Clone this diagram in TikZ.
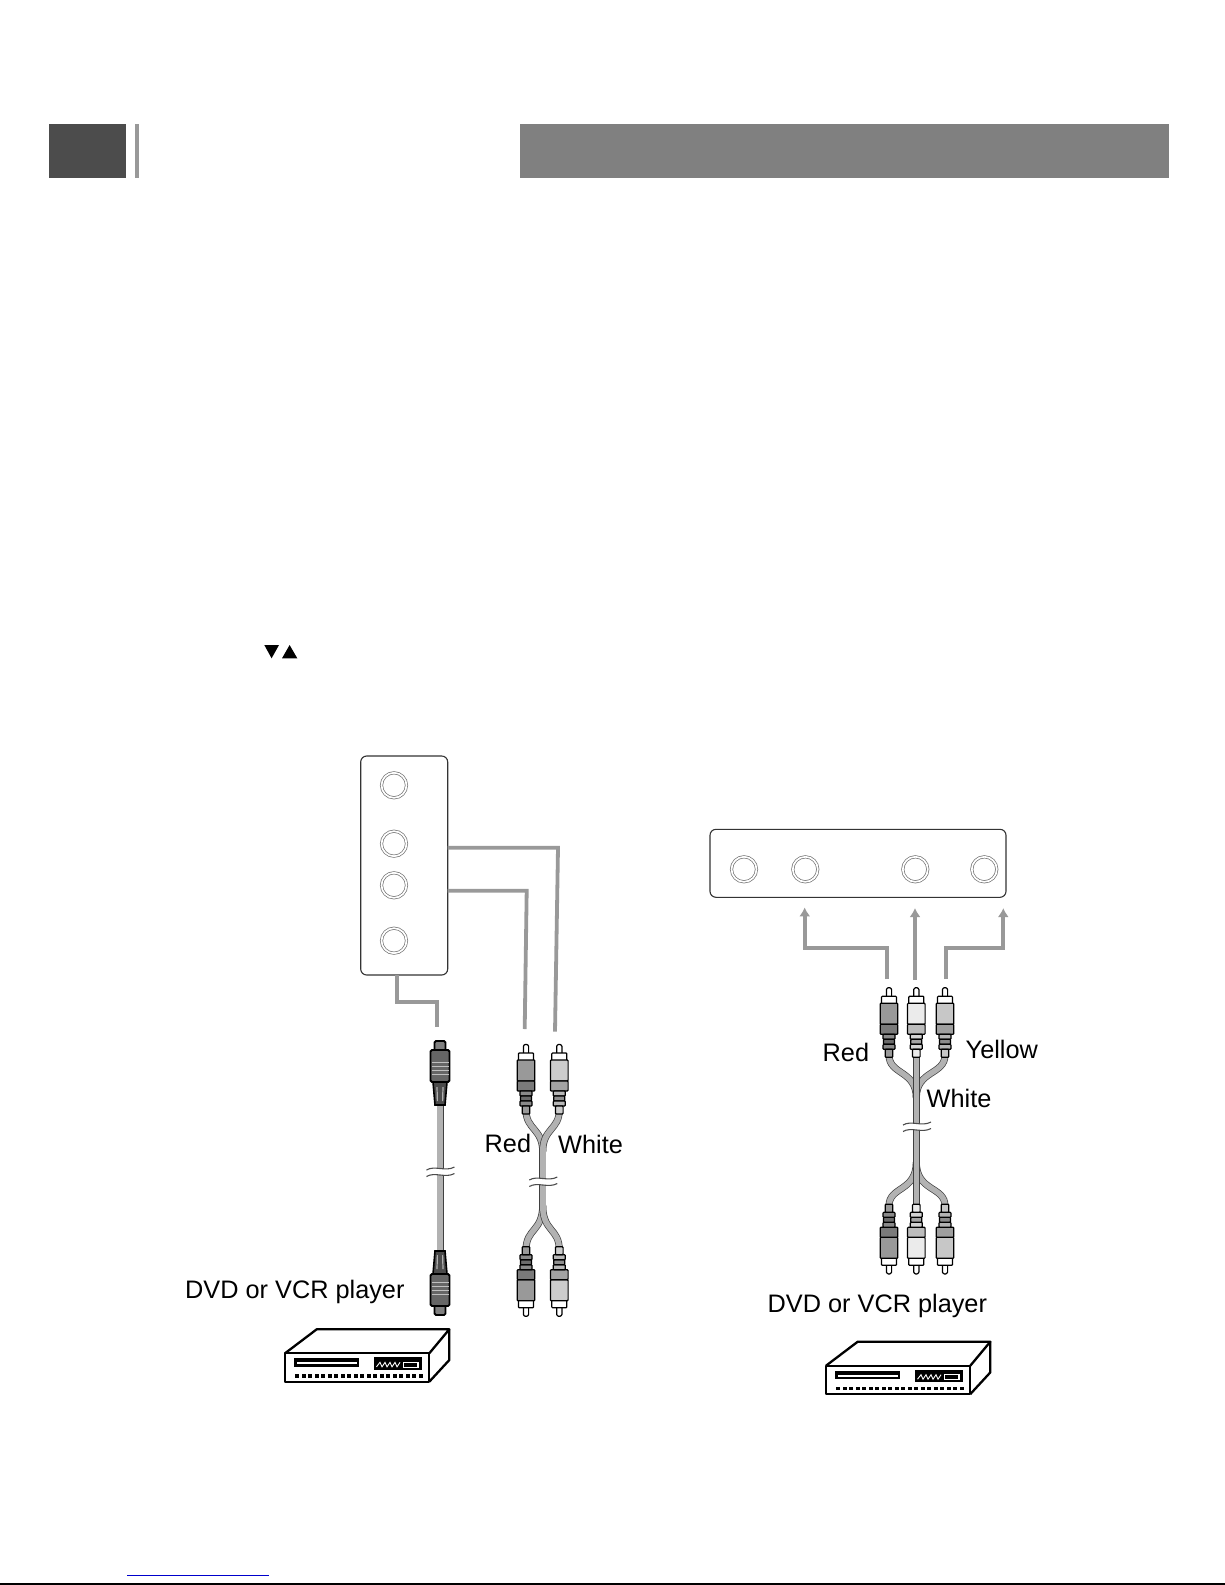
\documentclass[tikz,border=0pt]{standalone}
\usepackage{fontspec}
\setmainfont{Liberation Sans}
\usepackage{tikz}
\usetikzlibrary{arrows.meta}
\definecolor{wiregray}{HTML}{999999}
\tikzset{
  panel/.style={draw=black!80, line width=1.1, rounded corners=6, inner sep=0, outer sep=0},
  jack/.style={circle, draw=black!55, line width=.7, double=white, double distance=1.7, minimum size=25, inner sep=0},
  wire/.style={draw=wiregray, line width=3.8},
  wirearrow/.style={wire, -{Latex[length=9, width=11]}},
  cable/.style={draw=black!30, line width=5.6, preaction={draw=black!75, line width=7}},
  label/.style={font=\fontsize{25.3}{30}\selectfont, anchor=base west, inner sep=0, text=black},
  pics/rcaplug/.style={code={
        \colorlet{plugtone}{black!#1}
        \begin{scope}[draw=black, line width=1.2, rounded corners=.8]
          \draw[fill=white] (-2.6, 10) -- (-2.6, 1.5) -- (0, 0) -- (2.6, 1.5) -- (2.6, 10) -- cycle;
          \draw[fill=white] (-7.5, 9) rectangle (7.5, 17);
          \draw[fill=plugtone] (-8.8, 16) rectangle (8.8, 37);
          \draw[fill=plugtone!80!black] (-8.8, 37) rectangle (8.8, 47);
          \draw[fill=plugtone!90!black] (-6, 47) rectangle (6, 52);
          \draw[fill=plugtone!70!black] (-5.5, 52) rectangle (5.5, 57);
          \draw[fill=plugtone!90!black] (-6, 57) rectangle (6, 62);
          \draw[fill=plugtone] (-3.8, 62) rectangle (3.8, 70);
        \end{scope}}},
  pics/svideoplug/.style={code={
        \draw[fill=black!50, line width=1.8, rounded corners=1.5] (-5.5, 10) -- (-5.5, 0) -- (5.5, 0) -- (5.5, 10);
        \draw[fill=black!60, line width=1.8, rounded corners=1.5] (-9.5, 9) rectangle (9.5, 41);
        \foreach \y in {21, 25, 29, 33}
        \draw[black!25, line width=1] (-8.5, \y) -- (8.5, \y);
        \draw[fill=black!70, line width=1.6] (-7, 41) -- (-5, 64) -- (5, 64) -- (7, 41) -- cycle;
        \draw[black!30, line width=1.2] (-3, 46) -- (-2.6, 60) (3, 46) -- (2.6, 60);}},
  pics/cablebreak/.style={code={
        \fill[white] (-14, -2) .. controls (-6, -7) and (5, 0) .. (14, -5) -- (14, 1.5) .. controls (5, 6.5) and (-6, -.5) .. (-14, 4.5) -- cycle;
        \draw[black!70, line width=1.1] (-14, -2) .. controls (-6, -7) and (5, 0) .. (14, -5);
        \draw[black!70, line width=1.1] (-14, 4.5) .. controls (-6, -.5) and (5, 6.5) .. (14, 1.5);}},
  pics/dvdplayer/.style={code={
        \draw[line width=2.3, line join=round, fill=white] (0, 0) rectangle (144.3, 28.4);
        \draw[line width=2.3, line join=round] (0, 0) -- (31.7, -24) -- (164.3, -24) -- (144.3, 0);
        \draw[line width=2.3, line join=round] (164.3, -24) -- (164.3, 6.7) -- (144.3, 28.4);
        \fill (9.3, 5) rectangle (73.7, 13.4);
        \fill[white] (11.5, 8.8) rectangle (71.5, 10.8);
        \fill (89, 4) rectangle (136.7, 16.7);
        \draw[white, line width=.9] (91.5, 13.5) -- (95, 9) -- (97, 13.5) -- (100, 9) -- (102, 13.5) -- (105, 9) -- (107, 13.5) -- (110, 9) -- (112, 13.5) -- (115, 9);
        \draw[white, fill=black, line width=1.1] (118.5, 9) rectangle (133, 13.8);
        \foreach \k in {0, ..., 19}
        \fill (10 + 6.5*\k, 20.8) rectangle +(4.2, 3.8);}}
}
\begin{document}
\begin{tikzpicture}[x=1pt, y=-1pt]
        \useasboundingbox (0, 0) rectangle (1225, 1585);
        % header
        \fill[black!70] (48.5, 124.3) rectangle (126, 178);
        \fill[wiregray] (135, 124.3) rectangle (139, 178);
        \fill[black!50] (520, 124.3) rectangle (1169, 178);
        \fill (264.3, 645) -- (279, 645) -- (271.6, 658.3) -- cycle;
        \fill (282, 658.3) -- (297.3, 658.3) -- (289.6, 645) -- cycle;
        % left panel
        \node[panel, minimum width=87, minimum height=219] (panelL) at (404.2, 865.5) {};
        \foreach \name/\y in {jackLa/785.3, jackLb/843.7, jackLc/885.3, jackLd/940.7}
        \node[jack] (\name) at (394, \y) {};
        \coordinate (wireAs) at (panelL.east |- 0, 847.7);
        \coordinate (wireBs) at (panelL.east |- 0, 890.7);
        \coordinate (wireCs) at (397.3, 975);
        \coordinate (wireAe) at (555, 1031.7);
        \coordinate (wireBe) at (524.7, 1029);
        \coordinate (wireCe) at (436.7, 1027);
        \draw[wire] (wireAs) -- (558, 847.7) -- (wireAe);
        \draw[wire] (wireBs) -- (526.7, 890.7) -- (wireBe);
        \draw[wire] (wireCs) -- (397.3, 1002.3) -- (436.7, 1002.3) -- (wireCe);
        % left cables
        \draw[cable] (440, 1100) -- (440, 1255);
        \pic at (440, 1041) {svideoplug};
        \pic[yscale=-1] at (440, 1315) {svideoplug};
        \pic at (440.5, 1172) {cablebreak};
        \draw[cable] (526, 1110) .. controls (526, 1130) and (542.7, 1128) .. (542.7, 1152);
        \draw[cable] (559.3, 1110) .. controls (559.3, 1130) and (542.7, 1128) .. (542.7, 1152);
        \draw[cable] (526, 1250) .. controls (526, 1228) and (542.7, 1232) .. (542.7, 1205);
        \draw[cable] (559.3, 1250) .. controls (559.3, 1228) and (542.7, 1232) .. (542.7, 1205);
        \draw[cable] (542.7, 1148) -- (542.7, 1210);
        \pic at (543.3, 1182) {cablebreak};
        \pic at (526, 1044) {rcaplug=40};
        \pic at (559.3, 1044) {rcaplug=20};
        \pic[yscale=-1] at (526, 1316.7) {rcaplug=40};
        \pic[yscale=-1] at (559.3, 1316.7) {rcaplug=20};
        \node[label] (redL) at (484.5, 1152.2) {Red};
        \node[label] (whiteL) at (558, 1153.2) {White};
        \node[label] (playerL) at (185, 1298.2) {DVD or VCR player};
        \pic at (285, 1353.3) {dvdplayer};
        % right panel
        \node[panel, minimum width=296, minimum height=68] (panelR) at (858, 863.3) {};
        \foreach \name/\x in {jackRa/744, jackRb/805.3, jackRc/915.3, jackRd/984.3}
        \node[jack] (\name) at (\x, 869.3) {};
        \coordinate (arrowAs) at (886.7, 979.3);
        \coordinate (arrowBs) at (915, 980);
        \coordinate (arrowCs) at (945.7, 979);
        \draw[wirearrow] (arrowAs) -- (886.7, 948.3) -- (804.7, 948.3) -- (804.7, 907.3);
        \draw[wirearrow] (arrowBs) -- (915, 908);
        \draw[wirearrow] (arrowCs) -- (945.7, 948.3) -- (1003.3, 948.3) -- (1003.3, 908);
        % right cables
        \draw[cable] (889, 1055) .. controls (889, 1075) and (916.3, 1070) .. (916.3, 1098);
        \draw[cable] (945, 1055) .. controls (945, 1075) and (916.3, 1070) .. (916.3, 1098);
        \draw[cable] (889, 1206) .. controls (889, 1186) and (916.3, 1192) .. (916.3, 1162);
        \draw[cable] (945, 1206) .. controls (945, 1186) and (916.3, 1192) .. (916.3, 1162);
        \draw[cable] (916.3, 1050) -- (916.3, 1210);
        \pic at (917, 1127) {cablebreak};
        \foreach \x/\tone in {889/40, 916.3/8, 945/22}{
          \pic at (\x, 987.3) {rcaplug=\tone};
          \pic[yscale=-1] at (\x, 1274.3) {rcaplug=\tone};};
        \node[label] (redR) at (822.5, 1061) {Red};
        \node[label] (yellowR) at (965.5, 1058) {Yellow};
        \node[label] (whiteR) at (926.5, 1107.5) {White};
        \node[label] (playerR) at (767.5, 1312) {DVD or VCR player};
        \pic at (826, 1365.7) {dvdplayer};
        % page foot
        \draw[blue!80!black, line width=1] (127, 1575) -- (269, 1575);
        \draw[line width=1.2] (0, 1584) -- (1225, 1584);
\end{tikzpicture}
\end{document}
